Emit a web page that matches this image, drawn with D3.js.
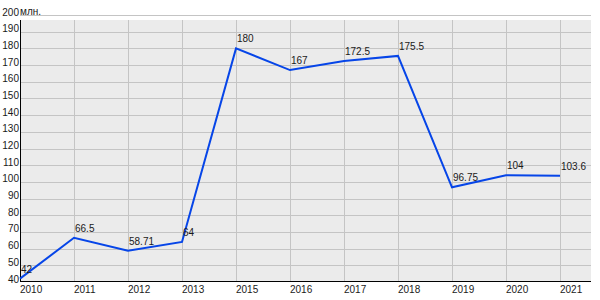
<!DOCTYPE html>
<html>
<head>
<meta charset="utf-8">
<script src="https://cdn.jsdelivr.net/npm/d3@7"></script>
<style>
  body { margin: 0; background: #fff; }
  text { font-family: "Liberation Sans", Arial, sans-serif; font-size: 10px; fill: #1a1a1a; }
</style>
</head>
<body>
<script>
const Width = 600;
const Height = 300;

// data
const years = ["2010", "2011", "2012", "2013", "2015", "2016", "2017", "2018", "2019", "2020", "2021"];
const values = [42, 66.5, 58.71, 64, 180, 167, 172.5, 175.5, 96.75, 104, 103.6];
const valueLabels = ["42", "66.5", "58.71", "64", "180", "167", "172.5", "175.5", "96.75", "104", "103.6"];
const yTicks = [40, 50, 60, 70, 80, 90, 100, 110, 120, 130, 140, 150, 160, 170, 180, 190, 200];

const margin = { left: 20, right: 9, top: 20, bottom: 19 };
const plotRight = Width - margin.right;
const plotBottom = Height - margin.bottom;

const svg = d3.select('body')
  .append('svg')
    .attr('width', Width)
    .attr('height', Height);

const xScale = d3.scalePoint()
  .domain(years)
  .range([20, 560]);

const yScale = d3.scaleLinear()
  .domain([40, 200])
  .range([282, 15]);

// background
svg.append('rect')
  .attr('x', margin.left)
  .attr('y', margin.top)
  .attr('width', plotRight - margin.left)
  .attr('height', plotBottom - margin.top)
  .attr('fill', '#ebebeb');

// horizontal grid
svg.selectAll('.hgrid')
  .data(yTicks.slice(1))
  .join('line')
    .attr('class', 'hgrid')
    .attr('x1', margin.left)
    .attr('x2', plotRight)
    .attr('y1', d => Math.round(yScale(d)) + 0.5)
    .attr('y2', d => Math.round(yScale(d)) + 0.5)
    .attr('stroke', '#c4c4c4')
    .attr('stroke-width', 1);

// vertical grid
svg.selectAll('.vgrid')
  .data(years.slice(1))
  .join('line')
    .attr('class', 'vgrid')
    .attr('x1', d => Math.round(xScale(d)) + 0.5)
    .attr('x2', d => Math.round(xScale(d)) + 0.5)
    .attr('y1', margin.top)
    .attr('y2', plotBottom)
    .attr('stroke', '#c4c4c4')
    .attr('stroke-width', 1);

// axes lines
svg.append('line')
  .attr('x1', margin.left + 0.5).attr('x2', margin.left + 0.5)
  .attr('y1', margin.top).attr('y2', plotBottom + 1)
  .attr('stroke', '#000');
svg.append('line')
  .attr('x1', margin.left).attr('x2', plotRight)
  .attr('y1', plotBottom + 0.5).attr('y2', plotBottom + 0.5)
  .attr('stroke', '#000');

// y tick labels
svg.selectAll('.ylab')
  .data(yTicks)
  .join('text')
    .attr('class', 'ylab')
    .attr('x', 19)
    .attr('y', d => yScale(d) + 0.5)
    .attr('text-anchor', 'end')
    .text(d => d);

svg.append('text')
  .attr('x', 20)
  .attr('y', 15)
  .text('млн.');

// x tick labels
svg.selectAll('.xlab')
  .data(years)
  .join('text')
    .attr('class', 'xlab')
    .attr('x', d => xScale(d))
    .attr('y', 293)
    .text(d => d);

// line
const line = d3.line()
  .x((d, i) => xScale(years[i]))
  .y(d => yScale(d));

svg.append('path')
  .datum(values)
  .attr('d', line)
  .attr('fill', 'none')
  .attr('stroke', '#0645e8')
  .attr('stroke-width', 2);

// value labels
svg.selectAll('.vlab')
  .data(values)
  .join('text')
    .attr('class', 'vlab')
    .attr('x', (d, i) => xScale(years[i]) + 1)
    .attr('y', d => yScale(d) - 6)
    .text((d, i) => valueLabels[i]);
</script>
</body>
</html>
